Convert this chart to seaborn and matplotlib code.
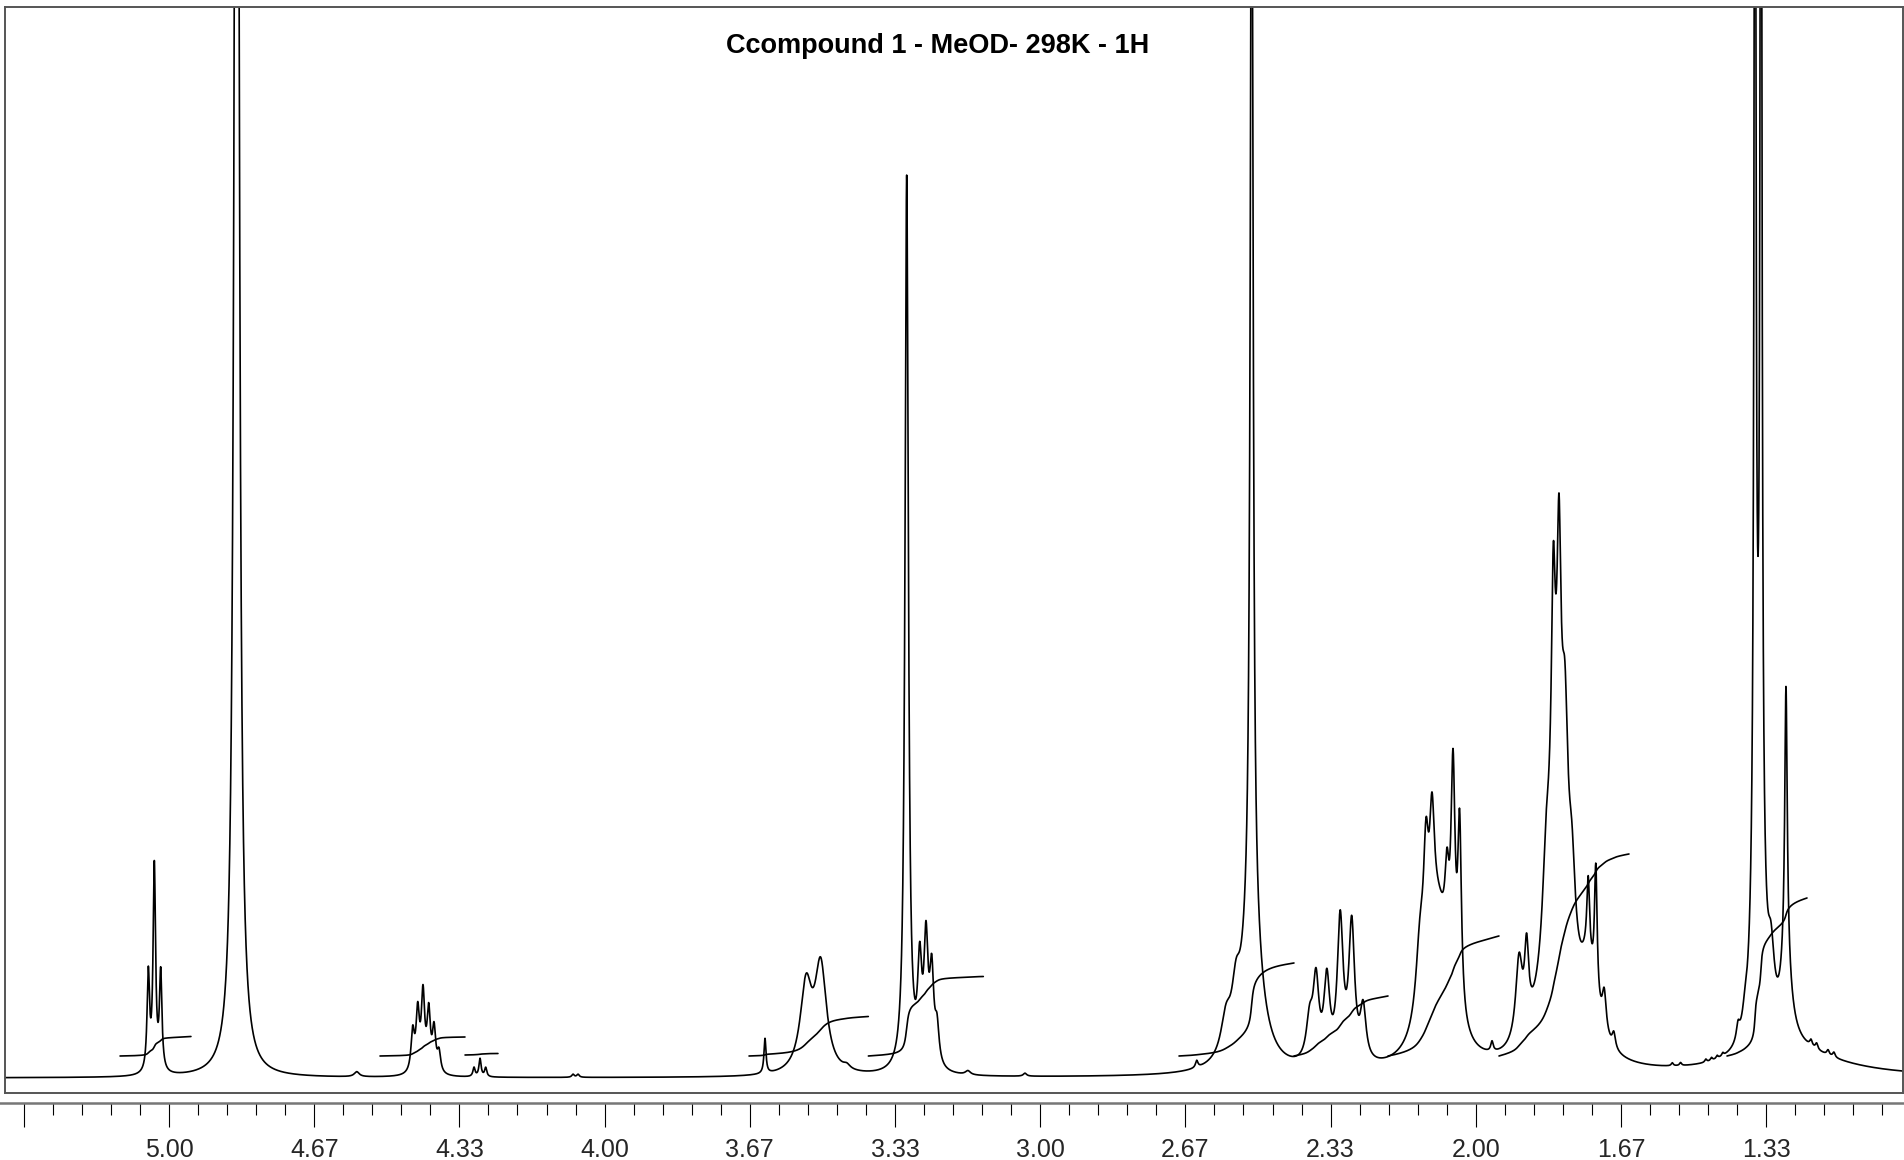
import numpy as np
import pandas as pd
import matplotlib
matplotlib.use("Agg")
import matplotlib.pyplot as plt
import seaborn as sns

# ---------------- data ----------------
title = "Ccompound 1 - MeOD- 298K - 1H"

# peak centres (ppm), heights (display units above baseline), half widths (ppm)
peak_ppm = [5.0475, 5.0337, 5.0191,
            4.8446, 4.5690,
            4.4405, 4.4290, 4.4169, 4.4038, 4.3916, 4.3802,
            4.2998, 4.2860, 4.2730,
            4.0725, 4.0610,
            3.6318, 3.5376, 3.5039, 3.4440,
            3.3065, 3.2766, 3.2622, 3.2491, 3.2369, 3.1660, 3.0350,
            2.6407, 2.5735, 2.5505, 2.5145, 2.5145,
            2.3815, 2.3669, 2.3420, 2.3113, 2.2849, 2.2587,
            2.1281, 2.1143, 2.1006, 2.0868, 2.0661, 2.0523, 2.0372, 1.9628,
            1.9008, 1.8834, 1.8388, 1.8221, 1.8136, 1.8090, 1.7952, 1.7792,
            1.7424, 1.7420, 1.7245, 1.7052, 1.6832,
            1.5490, 1.5300, 1.4720, 1.4590, 1.4460, 1.4330,
            1.3980, 1.3820, 1.3590, 1.3453, 1.3590, 1.3453, 1.3223,
            1.2879, 1.2879, 1.2305, 1.2176, 1.1914, 1.1779,
            1.2787]
peak_height = [97, 205, 97,
               2300, 5,
               40, 58, 76, 58, 42, 20,
               9, 18, 9,
               3, 3,
               35, 84, 104, 4,
               895, 94, 118, 88, 36, 4, 3,
               7, 35, 45, 1200, 150,
               40, 78, 80, 140, 135, 52,
               70, 115, 118, 145, 75, 220, 185, 10,
               80, 75, 70, 210, 275, 225, 150, 80,
               70, 75, 130, 40, 15,
               3, 3, 3, 3, 3, 3,
               15, 15, 1500, 1500, 180, 180, 65,
               270, 80, 6, 6, 5, 5,
               25]
peak_width = [0.0034, 0.0034, 0.0034,
              0.0053, 0.0069,
              0.0046, 0.0046, 0.0046, 0.0046, 0.0046, 0.0046,
              0.0030, 0.0030, 0.0030,
              0.0034, 0.0034,
              0.0028, 0.0161, 0.0161, 0.0092,
              0.0046, 0.0057, 0.0057, 0.0057, 0.0057, 0.0069, 0.0046,
              0.0034, 0.0138, 0.0115, 0.0037, 0.0253,
              0.0092, 0.0080, 0.0080, 0.0080, 0.0080, 0.0080,
              0.0115, 0.0069, 0.0069, 0.0321, 0.0057, 0.0057, 0.0051, 0.0034,
              0.0092, 0.0057, 0.0092, 0.0051, 0.0275, 0.0051, 0.0080, 0.0092,
              0.0230, 0.0037, 0.0037, 0.0057, 0.0046,
              0.0028, 0.0028, 0.0028, 0.0028, 0.0028, 0.0028,
              0.0046, 0.0069, 0.0021, 0.0021, 0.0092, 0.0092, 0.0092,
              0.0034, 0.0138, 0.0034, 0.0034, 0.0034, 0.0034,
              0.1377]

# integral regions: start ppm, end ppm, start level, total rise
integral_start = [5.1125, 4.5156, 4.3205, 3.6685, 3.3946, 2.6813, 2.4173, 2.2015, 1.9467, 1.4233]
integral_end   = [4.9495, 4.3205, 4.2447, 3.3946, 3.1306, 2.4173, 2.2015, 1.9467, 1.6483, 1.2397]
integral_level = [22, 22, 23, 22, 22, 22, 22, 22, 22, 22]
integral_rise  = [19.5, 19, 1.5, 39.5, 79.5, 93, 60, 120, 202, 158]

tick_labels = ["", "5.00", "4.67", "4.33", "4.00", "3.67", "3.33",
               "3.00", "2.67", "2.33", "2.00", "1.67", "1.33"]

# ---------------- build curves ----------------
ppm = np.linspace(5.3765, 1.0193, 24000)
spec = np.zeros_like(ppm)
for c, h, w in zip(peak_ppm, peak_height, peak_width):
    spec += h / (1.0 + ((ppm - c) / w) ** 2)
df_spec = pd.DataFrame({"ppm": ppm, "intensity": spec})

rows = []
for i, (s, e, lvl, r) in enumerate(zip(integral_start, integral_end, integral_level, integral_rise)):
    sel = (ppm <= s) & (ppm >= e)
    cum = np.cumsum(spec[sel])
    rows.append(pd.DataFrame({"ppm": ppm[sel], "intensity": lvl + r * cum / cum[-1], "region": i}))
df_int = pd.concat(rows, ignore_index=True)

# ---------------- figure ----------------
sns.set_theme(style="white")
plt.rcParams["font.family"] = ["Liberation Sans", "DejaVu Sans"]

W, H = 1904, 1160
fig = plt.figure(figsize=(W / 100, H / 100), dpi=100)
fig.patch.set_facecolor("white")

ax = fig.add_axes([5 / W, 67 / H, 1898 / W, 1085.7 / H])
sns.lineplot(data=df_spec, x="ppm", y="intensity", ax=ax, color="black",
             linewidth=1.2, estimator=None, sort=False)
sns.lineplot(data=df_int, x="ppm", y="intensity", units="region", ax=ax,
             color="black", linewidth=1.2, estimator=None, sort=False)
ax.set_xlim(5.37649, 1.01928)
ax.set_ylim(-15, 1070.7)
ax.set_xticks([])
ax.set_yticks([])
ax.set_xlabel("")
ax.set_ylabel("")
for sp in ax.spines.values():
    sp.set_visible(True)
    sp.set_color("#555555")
    sp.set_linewidth(1.4)

# ppm ruler below the frame
ax2 = fig.add_axes([0, 57 / H, 1, 0.001])
ax2.set_xlim(5.38797, 1.01699)
ax2.set_ylim(0, 1)
ax2.set_yticks([])
for k in ["top", "left", "right"]:
    ax2.spines[k].set_visible(False)
ax2.spines["bottom"].set_color("#777777")
ax2.spines["bottom"].set_linewidth(1.8)
ax2.patch.set_alpha(0)
major = 16 / 3 - np.arange(len(tick_labels)) / 3
minor = 16 / 3 - np.arange(0, 65) / 15
ax2.set_xticks(major)
ax2.set_xticklabels(tick_labels)
ax2.set_xticks(minor, minor=True)
ax2.tick_params(axis="x", which="major", direction="out", length=17.3, width=0.8,
                color="black", labelsize=18, pad=8, bottom=True)
ax2.tick_params(axis="x", which="minor", direction="out", length=8.6, width=0.8,
                color="black", bottom=True)

fig.text(937.5 / W, 1 - 53.3 / H, title, ha="center", va="baseline",
         fontsize=19.5, fontweight="bold", color="black")

fig.savefig("out.png", dpi=100)
